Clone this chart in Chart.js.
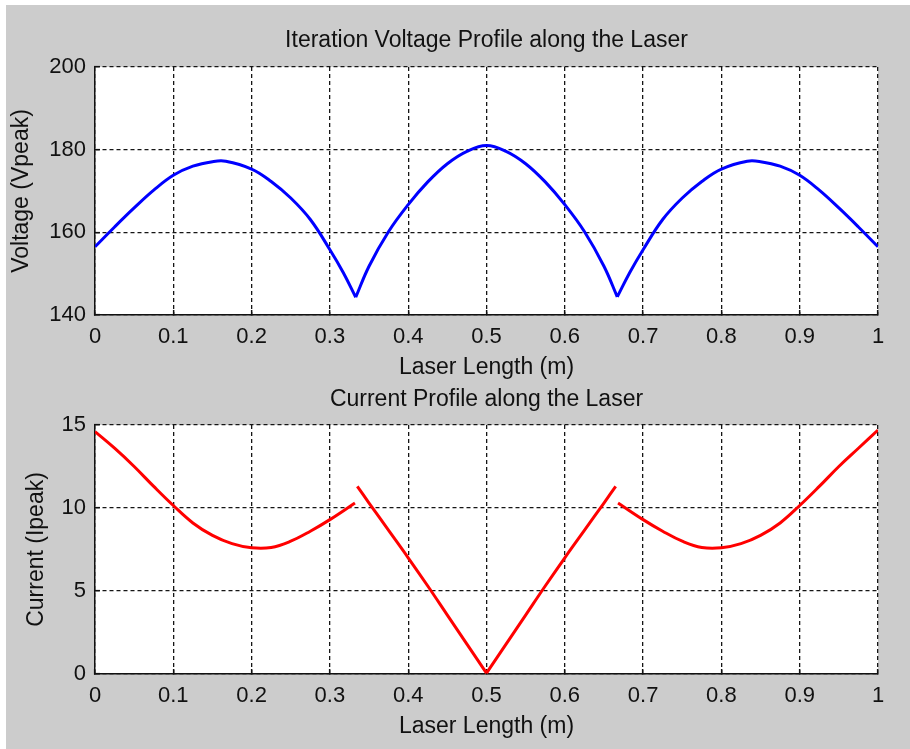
<!DOCTYPE html>
<html>
<head>
<meta charset="utf-8">
<title>Laser profiles</title>
<script src="https://cdn.jsdelivr.net/npm/chart.js@4.4.1/dist/chart.umd.min.js"></script>
<style>
  html, body { margin: 0; padding: 0; background: #ffffff; }
  body { width: 910px; height: 749px; position: relative; overflow: hidden; }
  #panel { position: absolute; left: 6px; top: 5px; width: 904px; height: 744px; background: #cccccc; }
  .box { position: absolute; left: 0; width: 910px; }
  #top { top: 0; height: 380px; }
  #bottom { top: 380px; height: 369px; }
</style>
</head>
<body>
<div id="panel"></div>
<div class="box" id="top"><canvas id="voltageChart" width="910" height="380"></canvas></div>
<div class="box" id="bottom"><canvas id="currentChart" width="910" height="369"></canvas></div>
<script>
// positions along the laser (m); a null value breaks the line
var voltageX = [0, 0.025, 0.05, 0.075, 0.1, 0.125, 0.15, 0.167, 0.2, 0.225, 0.25, 0.275, 0.3, 0.317, 0.333,
                0.333,
                0.333, 0.35, 0.375, 0.4, 0.425, 0.45, 0.475, 0.5, 0.525, 0.55, 0.575, 0.6, 0.625, 0.65, 0.667,
                0.667,
                0.667, 0.683, 0.7, 0.725, 0.75, 0.775, 0.8, 0.833, 0.85, 0.875, 0.9, 0.925, 0.95, 0.975, 1];
var voltage = [156.5, 161.3, 165.9, 170.2, 173.8, 176.0, 177.1, 177.2, 175.3, 172.3, 168.3, 163.1, 155.8, 150.3, 144.3,
               null,
               144.3, 151.8, 160.2, 166.7, 172.2, 176.6, 179.6, 181.0, 179.6, 176.6, 172.2, 166.7, 160.2, 151.8, 144.4,
               null,
               144.4, 150.3, 155.8, 163.1, 168.3, 172.3, 175.3, 177.2, 177.1, 176.0, 173.8, 170.2, 165.9, 161.3, 156.5];

var currentX = [0, 0.025, 0.05, 0.075, 0.1, 0.125, 0.15, 0.175, 0.2, 0.225, 0.25, 0.275, 0.3, 0.332,
                0.333,
                0.335, 0.35, 0.375, 0.4, 0.425, 0.45, 0.475, 0.5,
                0.5,
                0.5, 0.525, 0.55, 0.575, 0.6, 0.625, 0.65, 0.665,
                0.667,
                0.668, 0.7, 0.725, 0.75, 0.775, 0.8, 0.825, 0.85, 0.875, 0.9, 0.925, 0.95, 0.975, 1];
var current = [14.6, 13.6, 12.5, 11.3, 10.15, 9.1, 8.35, 7.85, 7.6, 7.62, 8.0, 8.6, 9.3, 10.3,
               null,
               11.3, 10.3, 8.65, 7.0, 5.3, 3.55, 1.8, 0.05,
               null,
               0.05, 1.8, 3.55, 5.3, 7.0, 8.65, 10.3, 11.3,
               null,
               10.3, 9.3, 8.6, 8.0, 7.62, 7.6, 7.85, 8.35, 9.1, 10.15, 11.3, 12.5, 13.6, 14.7];

var xTickLabels = ['0', '0.1', '0.2', '0.3', '0.4', '0.5', '0.6', '0.7', '0.8', '0.9', '1'];
var voltageTicks = ['140', '160', '180', '200'];
var currentTicks = ['0', '5', '10', '15'];

Chart.defaults.font.family = "'Liberation Sans', Arial, sans-serif";
Chart.defaults.color = '#111';

var whiteArea = {
    id: 'whiteArea',
    beforeDraw: function(chart) {
        var a = chart.chartArea;
        chart.ctx.save();
        chart.ctx.fillStyle = '#ffffff';
        chart.ctx.fillRect(a.left, a.top, a.right - a.left, a.bottom - a.top);
        chart.ctx.restore();
    }
};

function points(xs, ys) {
    return xs.map(function(x, i) { return { x: x, y: ys[i] }; });
}

var gridStyle = {
    color: '#151515',
    lineWidth: 1.3,
    drawTicks: true,
    tickLength: -5,
    tickBorderDash: [],
    tickColor: '#111',
    tickWidth: 1.5
};

function makeChart(id, opts) {
    var ctx = document.getElementById(id).getContext('2d');
    return new Chart(ctx, {
        type: 'line',
        data: {
            datasets: [{
                data: points(opts.xs, opts.ys),
                borderColor: opts.color,
                borderWidth: 3,
                pointRadius: 0,
                tension: 0.4,
                spanGaps: false
            }]
        },
        options: {
            responsive: false,
            animation: false,
            events: [],
            layout: {
                padding: { left: 0, right: 32, top: 0, bottom: 0 }
            },
            plugins: {
                legend: { display: false },
                tooltip: { enabled: false }
            },
            scales: {
                // top axis only carries the plot title, centred over the plot area
                titleAxis: {
                    axis: 'x',
                    type: 'linear',
                    position: 'top',
                    min: 0,
                    max: 1,
                    afterFit: function(scale) { scale.height = opts.topHeight; },
                    border: { display: false },
                    grid: { display: false },
                    ticks: { display: false },
                    title: {
                        display: true,
                        text: opts.title,
                        font: { size: 23 },
                        padding: { top: opts.titlePad, bottom: 0 }
                    }
                },
                x: {
                    type: 'linear',
                    min: 0,
                    max: 1,
                    afterFit: function(scale) { scale.height = opts.xAxisHeight; },
                    border: { display: true, color: '#111', width: 1.5, dash: [4, 3] },
                    grid: gridStyle,
                    ticks: {
                        stepSize: 0.1,
                        padding: opts.xTickPad,
                        maxRotation: 0,
                        font: { size: 22 },
                        callback: function(v, i) { return xTickLabels[i]; }
                    },
                    title: {
                        display: true,
                        text: 'Laser Length (m)',
                        font: { size: 23 },
                        padding: { top: 0, bottom: opts.xTitlePad }
                    }
                },
                y: {
                    min: opts.yMin,
                    max: opts.yMax,
                    afterFit: function(scale) { scale.width = 95; },
                    border: { display: true, color: '#111', width: 1.5, dash: [4, 3] },
                    grid: gridStyle,
                    ticks: {
                        stepSize: opts.yStep,
                        padding: 14,
                        font: { size: 22 },
                        callback: function(v, i) { return opts.yLabels[i]; }
                    },
                    title: {
                        display: true,
                        text: opts.yTitle,
                        font: { size: 23 },
                        padding: { top: opts.yTitlePad, bottom: 0 }
                    }
                }
            }
        },
        plugins: [whiteArea]
    });
}

makeChart('voltageChart', {
    xs: voltageX, ys: voltage, color: '#0000ff',
    title: 'Iteration Voltage Profile along the Laser',
    topHeight: 67, titlePad: 26.5,
    xAxisHeight: 65, xTickPad: 14, xTitlePad: -1.5,
    yMin: 140, yMax: 200, yStep: 20, yLabels: voltageTicks,
    yTitle: 'Voltage (Vpeak)', yTitlePad: 8
});

makeChart('currentChart', {
    xs: currentX, ys: current, color: '#ff0000',
    title: 'Current Profile along the Laser',
    topHeight: 45, titlePad: 5.5,
    xAxisHeight: 75, xTickPad: 13.5, xTitlePad: 8.5,
    yMin: 0, yMax: 15, yStep: 5, yLabels: currentTicks,
    yTitle: 'Current (Ipeak)', yTitlePad: 23
});
</script>
</body>
</html>
